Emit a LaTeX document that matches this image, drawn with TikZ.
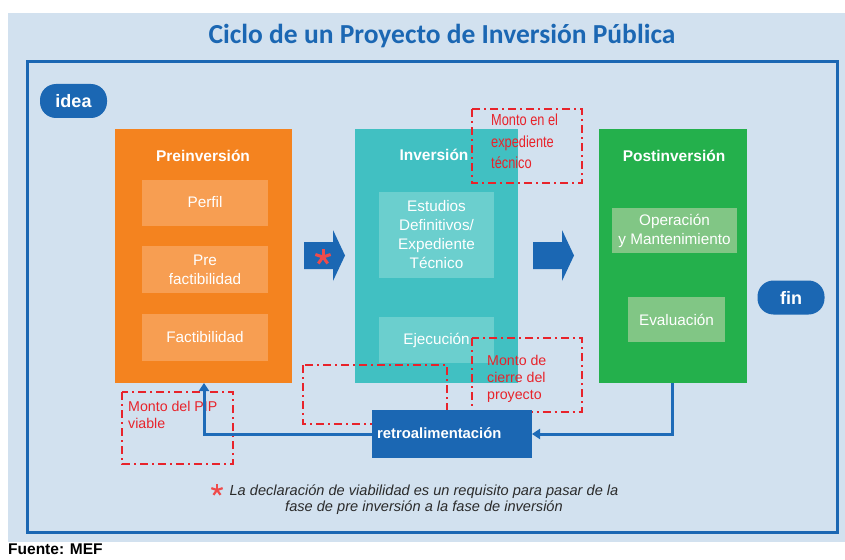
\documentclass[tikz,border=0pt]{standalone}
\usepackage{fontspec}
\setmainfont{Liberation Sans}
\newfontfamily\titlefont{Carlito}
\newfontfamily\narrowfont[FakeStretch=0.8]{Liberation Sans}
\usetikzlibrary{arrows.meta}
\definecolor{bgblue}{HTML}{D2E1EF}
\definecolor{mainblue}{HTML}{1B67B3}
\definecolor{lineblue}{HTML}{1E6BB8}
\definecolor{orangeA}{HTML}{F4831F}
\definecolor{orangeB}{HTML}{F79E52}
\definecolor{tealA}{HTML}{41C0C2}
\definecolor{tealB}{HTML}{6BCFCE}
\definecolor{greenA}{HTML}{24B04C}
\definecolor{greenB}{HTML}{81C685}
\definecolor{redD}{HTML}{E8232B}
\definecolor{starred}{HTML}{EF4B4B}
\definecolor{notegray}{HTML}{2B2B2B}
\tikzset{
  phase/.style={fill=#1, inner sep=0pt, outer sep=0pt},
  sub/.style={fill=#1, inner sep=0pt, outer sep=0pt, text=white, align=center,
    font=\fontsize{15.3}{19}\selectfont},
  phasetitle/.style={text=white, font=\bfseries\fontsize{15.5}{18}\selectfont, inner sep=0pt},
  pill/.style={fill=mainblue, rounded corners=16pt, inner sep=0pt, minimum width=67pt,
    minimum height=34pt, text=white, font=\bfseries\fontsize{18}{20}\selectfont},
  reddash/.style={draw=redD, line width=2pt, dash pattern=on 8pt off 4pt on 2pt off 4pt},
  redtext/.style={text=redD, inner sep=0pt, align=left},
  fb/.style={draw=lineblue, line width=3pt},
  fbtip/.style={-{Triangle[width=10pt,length=8pt]}},
  bigarrow/.style={fill=mainblue},
  star/.style={draw=starred, line width=#1, line cap=butt},
}
\begin{document}
\begin{tikzpicture}[x=1pt,y=-1pt]
\useasboundingbox (0,0) rectangle (845,559);
% backgrounds
\fill[bgblue] (8,13) rectangle (845,542);
\draw[mainblue, line width=3pt] (27.5,61.5) rectangle (837.5,532);
\node[text=mainblue, font=\titlefont\bfseries\fontsize{27.5}{30}\selectfont, inner sep=0pt] (title) at (442,36) {Ciclo de un Proyecto de Inversión Pública};

% pills
\node[pill] (idea) at (73.5,101) {idea};
\node[pill] (fin) at (791,297.5) {fin};

% phase boxes
\node[phase=orangeA, minimum width=177pt, minimum height=254pt] (pre) at (203.5,256) {};
\node[phase=tealA, minimum width=163pt, minimum height=254pt] (inv) at (436.5,256) {};
\node[phase=greenA, minimum width=148pt, minimum height=254pt] (post) at (673,256) {};

\node[phasetitle] (pretitle) at (203,156) {Preinversión};
\node[phasetitle] (invtitle) at (434,155) {Inversión};
\node[phasetitle] (posttitle) at (674,156) {Postinversión};

% sub boxes
\node[sub=orangeB, minimum width=126pt, minimum height=46pt] (perfil) at (205,202.5) {Perfil};
\node[sub=orangeB, minimum width=126pt, minimum height=47pt] (prefact) at (205,269.5) {Pre\\factibilidad};
\node[sub=orangeB, minimum width=126pt, minimum height=47pt] (fact) at (205,337.5) {Factibilidad};

\node[sub=tealB, minimum width=115pt, minimum height=86pt] (estudios) at (436.5,235) {Estudios\\Definitivos/\\Expediente\\Técnico};
\node[sub=tealB, minimum width=115pt, minimum height=46pt] (ejec) at (436.5,340) {Ejecución};

\node[sub=greenB, minimum width=125pt, minimum height=45pt] (oper) at (674.5,230.5) {Operación\\y Mantenimiento};
\node[sub=greenB, minimum width=97pt, minimum height=45pt] (eval) at (676.5,319.5) {Evaluación};

% big arrows
\fill[bigarrow] (304,242) -- (333,242) -- (333,230) -- (345,255.5) -- (333,281) -- (333,269) -- (304,269) -- cycle;
\fill[bigarrow] (533,242) -- (562,242) -- (562,230) -- (574,255.5) -- (562,281) -- (562,269) -- (533,269) -- cycle;
\foreach \a in {90,18,162,-54,234}
  \draw[star=3pt] (323,257) -- ++(\a:-8);

% red dashed boxes
\draw[reddash] (472,109) rectangle (582,183);
\node[redtext, anchor=north west, font=\narrowfont\fontsize{16}{21.5}\selectfont] (montoet) at (491,114) {Monto en el\\expediente\\técnico};

\draw[reddash] (472,338) rectangle (582,411.5);
\node[redtext, anchor=north west, font=\fontsize{14.2}{17}\selectfont] (montocierre) at (487,355) {Monto de\\cierre del\\proyecto};

\draw[reddash] (303,365) rectangle (447,424);

\draw[reddash] (122,392) rectangle (233,464);
\node[redtext, anchor=north west, font=\fontsize{14.2}{17}\selectfont] (montopip) at (128,401) {Monto del PIP\\ viable};

% retroalimentacion
\node[fill=mainblue, minimum width=160pt, minimum height=48pt, inner sep=0pt, outer sep=0pt] (retro) at (452,434) {};
\node[anchor=west, text=white, font=\bfseries\fontsize{14.8}{17}\selectfont, inner sep=0pt] (retrotext) at (377,433) {retroalimentación};

% feedback connectors
\coordinate (postout) at (672,383);
\coordinate (prein) at (204,383);
\draw[fb,fbtip] (postout) |- (retro.east);
\draw[fb,fbtip] (retro.west) -| (prein);

% footnote
\foreach \a in {90,18,162,-54,234}
  \draw[star=2.2pt] (217,490) -- ++(\a:-6);
\node[text=notegray, font=\itshape\fontsize{14.6}{15.5}\selectfont, align=center, inner sep=0pt] (note) at (424,499.5)
  {La declaración de viabilidad es un requisito para pasar de la\\fase de pre inversión a la fase de inversión};

\node[anchor=west, font=\bfseries\fontsize{15.5}{17}\selectfont, inner sep=0pt] (fuente) at (8,549) {Fuente: MEF};
\end{tikzpicture}
\end{document}
